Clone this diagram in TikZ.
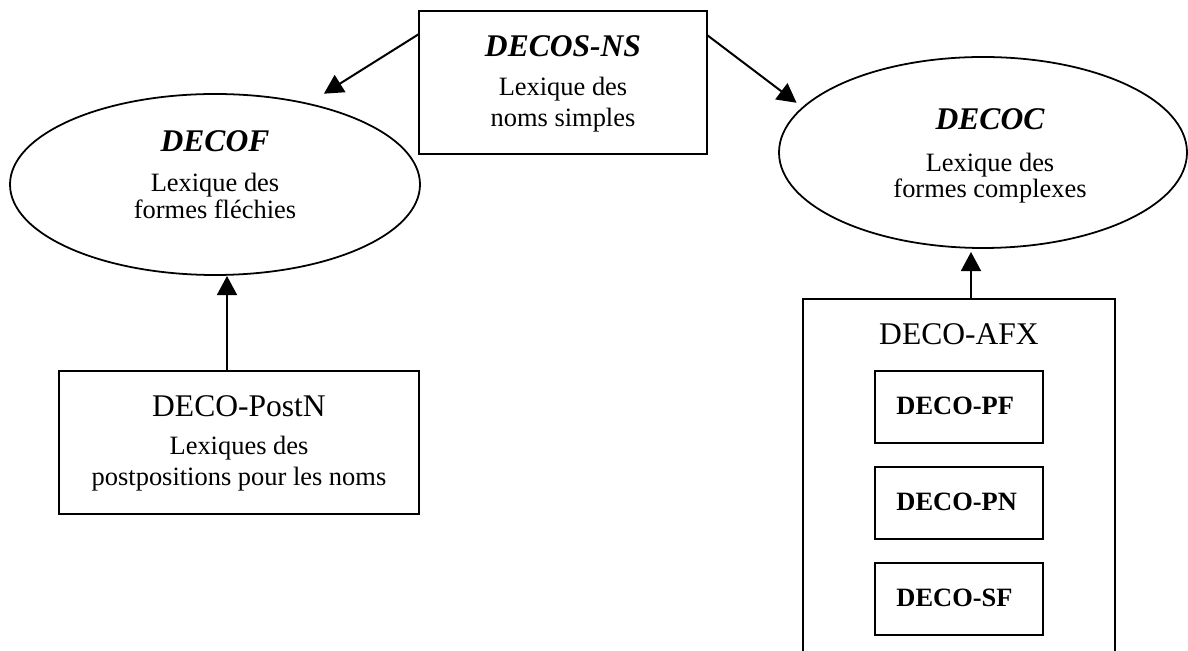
\documentclass[tikz,border=0pt]{standalone}
\usepackage{fontspec}
\setmainfont{Liberation Serif}
\usetikzlibrary{arrows.meta,calc,shapes.geometric}
\begin{document}
\begin{tikzpicture}[x=0.45pt,y=-0.45pt,
  boxst/.style={draw,line width=0.9pt,rectangle,inner sep=0pt,outer sep=0pt},
  ellst/.style={draw,line width=0.8pt,ellipse,inner sep=0pt,outer sep=0pt},
  arr/.style={line width=0.9pt,-{Triangle[length=8.6pt,width=9pt]}},
  big/.style={font=\fontsize{14.2}{17}\selectfont},
  bigbi/.style={font=\fontsize{14.2}{17}\selectfont\bfseries\itshape},
  small/.style={font=\fontsize{11.9}{14}\selectfont},
  smallb/.style={font=\fontsize{11.9}{14}\selectfont\bfseries},
  lbl/.style={anchor=base,inner sep=0pt},
  lblw/.style={anchor=base west,inner sep=0pt}
]
\useasboundingbox (0,0) rectangle (1188,651);
\clip (0,0) rectangle (1188,651);

% shapes
\node[boxst, minimum width=288*0.45pt, minimum height=143*0.45pt] (ns) at (563,82.5) {};
\node[ellst, minimum width=410*0.45pt, minimum height=181*0.45pt] (decof) at (215,184.5) {};
\node[ellst, minimum width=408*0.45pt, minimum height=191*0.45pt] (decoc) at (983,152.5) {};
\node[boxst, minimum width=360*0.45pt, minimum height=143*0.45pt] (postn) at (239,442.5) {};
\node[boxst, minimum width=312*0.45pt, minimum height=381*0.45pt] (afx) at (959,489.5) {};
\node[boxst, minimum width=168*0.45pt, minimum height=72*0.45pt] (pf) at (959,407) {};
\node[boxst, minimum width=168*0.45pt, minimum height=72*0.45pt] (pn) at (959,503) {};
\node[boxst, minimum width=168*0.45pt, minimum height=72*0.45pt] (sf) at (959,599) {};

% texts
\node[lbl,bigbi] (t1) at (563,57) {DECOS-NS};
\node[lbl,small] (t2) at (563,96) {Lexique des};
\node[lbl,small] (t3) at (563,127) {noms simples};

\node[lbl,bigbi] (t4) at (215,152) {DECOF};
\node[lbl,small] (t5) at (215,192) {Lexique des};
\node[lbl,small] (t6) at (215,219) {formes fléchies};

\node[lbl,bigbi] (t7) at (990,130) {DECOC};
\node[lbl,small] (t8) at (990,172) {Lexique des};
\node[lbl,small] (t9) at (990,198) {formes complexes};

\node[lbl,big] (t10) at (239,417) {DECO-PostN};
\node[lbl,small] (t11) at (239,455) {Lexiques des};
\node[lbl,small] (t12) at (239,486) {postpositions pour les noms};

\node[lbl,big] (t13) at (959,345) {DECO-AFX};
\node[lblw,smallb] (t14) at (896,415) {DECO-PF};
\node[lblw,smallb] (t15) at (896,511) {DECO-PN};
\node[lblw,smallb] (t16) at (896,607) {DECO-SF};

% connectors
\coordinate (s1) at ([yshift=-23*0.45pt]ns.north west);
\coordinate (s2) at ([yshift=-24*0.45pt]ns.north east);
\coordinate (s3) at ([xshift=-12*0.45pt]postn.north);
\coordinate (s4) at ([xshift=12*0.45pt]afx.north);
\draw[arr, shorten >=19*0.45pt] (s1) -- (decof.41);
\draw[arr, shorten >=8*0.45pt] (s2) -- (decoc.166);
\draw[arr, shorten >=1*0.45pt] (s3) -- (s3 |- decof.south);
\draw[arr, shorten >=4*0.45pt] (s4) -- (s4 |- decoc.south);
\end{tikzpicture}
\end{document}
